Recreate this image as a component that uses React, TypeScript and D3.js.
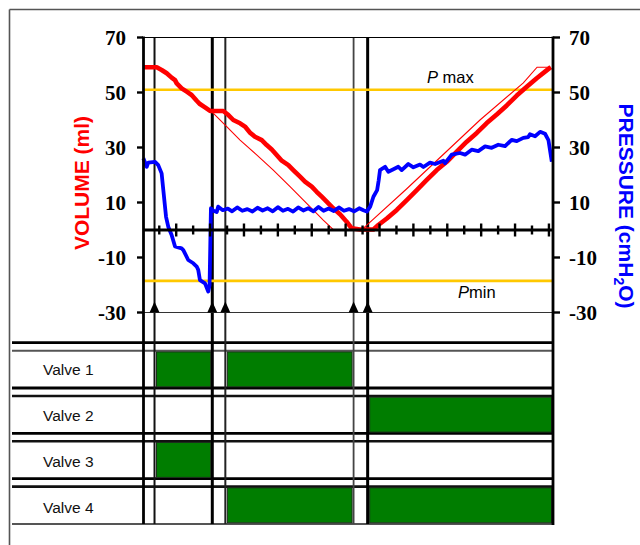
import React from 'react';
import * as d3 from 'd3';

// ---------- data ----------
const yTickValues = [70, 50, 30, 10, -10, -30];
const xTickValues = [0, 1, 2, 3, 4, 5, 6, 7, 8, 9, 10, 11, 12, 13, 14, 15, 16, 17, 18, 19, 20, 21, 22, 23];
const timeDomain = [-0.96, 23.24];
const valueDomain = [-30, 70];
const pMax = 51;
const pMin = -18.5;

// phase boundaries (time) : axis start, events 1..5, axis end
const phaseBounds = [-0.96, -0.28, 3.13, 3.9, 11.47, 12.3, 23.24];
const eventIndex = [1, 2, 3, 4, 5];
const valveNames = ['Valve 1', 'Valve 2', 'Valve 3', 'Valve 4'];
// 1 = open during phase i (between phaseBounds[i] and phaseBounds[i+1])
const valveOpen = [
  [0, 1, 0, 1, 0, 0],
  [0, 0, 0, 0, 0, 1],
  [0, 1, 0, 0, 0, 0],
  [0, 0, 0, 1, 0, 1],
];

// measured volume (ml)
const volumeMeasured: [number, number][] = [
  [-0.94, 59.2], [-0.15, 59.2], [0.14, 58.2], [0.44, 57.0], [0.73, 55.4], [0.93, 54.5], [1.03, 53.3],
  [1.32, 51.5], [1.62, 50.3], [1.91, 49.1], [2.21, 47.0], [2.4, 45.8], [2.7, 44.6], [3.0, 43.3],
  [3.78, 43.3], [4.08, 41.8], [4.37, 40.0], [4.77, 38.8], [5.06, 37.6], [5.36, 35.4], [5.65, 33.9],
  [6.05, 32.7], [6.34, 30.9], [6.64, 29.3], [6.93, 27.3], [7.23, 25.2], [7.62, 23.6], [7.91, 21.8],
  [8.31, 19.4], [8.6, 17.6], [9.0, 15.8], [9.29, 13.9], [9.59, 12.1], [9.88, 10.3], [10.27, 7.9],
  [10.67, 5.7], [11.06, 3.0], [11.36, 0.6], [11.85, 0.2], [12.64, 0.2], [12.93, 1.8], [13.43, 4.2],
  [14.02, 7.3], [14.61, 10.9], [15.2, 14.5], [15.79, 18.2], [16.38, 21.8], [16.97, 24.8], [17.56, 28.5],
  [18.15, 32.1], [18.74, 35.3], [19.33, 38.9], [19.92, 42.0], [20.51, 45.3], [21.1, 48.9], [21.69, 52.1],
  [22.28, 55.2], [22.77, 57.6], [23.11, 59.2],
];

// ideal volume (ml)
const volumeIdeal: [number, number][] = [
  [3.05, 43.3], [3.98, 37.6], [4.77, 32.7], [5.75, 27.3], [6.73, 21.8], [7.72, 15.8], [8.7, 9.7],
  [9.68, 3.6], [10.26, 0.2], [11.97, 0.2], [12.25, 1.8], [14.61, 15.0], [18.93, 40.0], [21.49, 53.5],
  [22.3, 59.2], [23.11, 59.2],
];

// pressure (cmH2O)
const pressure: [number, number][] = [
  [-0.94, 26.1], [-0.74, 23.0], [-0.65, 24.5], [-0.25, 24.8], [-0.06, 23.6], [0.14, 20.6], [0.24, 14.5],
  [0.4, 4.8], [0.53, 1.2], [0.73, -1.8], [0.93, -6.0], [1.32, -6.7], [1.42, -7.3], [1.71, -10.9],
  [2.01, -12.1], [2.21, -13.3], [2.3, -14.5], [2.4, -18.2], [2.7, -19.4], [2.89, -22.4], [2.97, -20.0],
  [3.05, 7.9], [3.2, 7.0], [3.39, 6.5], [3.48, 8.5], [3.75, 7.2], [4.05, 7.8], [4.3, 6.8], [4.6, 8.2],
  [4.9, 7.0], [5.2, 7.6], [5.5, 6.7], [5.8, 8.1], [6.1, 7.1], [6.4, 7.9], [6.7, 6.8], [7.0, 8.3],
  [7.3, 7.0], [7.6, 7.7], [7.9, 6.7], [8.2, 8.2], [8.5, 7.1], [8.8, 7.9], [9.1, 6.8], [9.4, 8.4],
  [9.7, 7.0], [10.0, 7.8], [10.3, 6.9], [10.6, 8.2], [10.9, 7.0], [11.2, 7.6], [11.5, 6.8], [11.8, 7.9],
  [12.05, 7.2], [12.25, 6.7], [12.45, 8.5], [12.64, 12.1], [12.86, 14.5], [12.95, 18.0], [13.03, 21.8],
  [13.33, 23.0], [13.52, 21.2], [13.82, 22.1], [14.11, 23.0], [14.31, 21.8], [14.7, 24.0], [15.0, 22.8],
  [15.39, 23.8], [15.59, 22.9], [15.98, 24.5], [16.28, 24.0], [16.77, 25.2], [16.87, 24.3], [17.26, 27.4],
  [17.75, 28.0], [18.05, 27.4], [18.44, 29.2], [18.83, 28.7], [19.23, 30.4], [19.62, 29.9], [20.01, 31.0],
  [20.41, 30.5], [20.8, 32.8], [21.1, 32.3], [21.49, 33.5], [21.78, 33.8], [21.88, 34.8], [22.18, 34.1],
  [22.48, 35.7], [22.77, 35.0], [22.97, 32.7], [23.17, 24.8],
];

// ---------- component ----------
const serif = "'Liberation Serif', 'Times New Roman', serif";
const sans = "'Liberation Sans', Arial, sans-serif";

export default function App() {
  const x = d3.scaleLinear().domain(timeDomain).range([143, 553]);
  const y = d3.scaleLinear().domain(valueDomain).range([312.5, 37.5]);
  const line = d3.line<[number, number]>().x((d) => x(d[0])).y((d) => y(d[1]));

  const xL = x(timeDomain[0]);
  const xR = x(timeDomain[1]);
  const yTop = y(valueDomain[1]);
  const yBot = y(valueDomain[0]);
  const y0 = y(0);

  const firstLine = 342.7;
  const pitch = 45.3;
  const pairGap = 8;
  const tableBottom = 524;
  const tableLeft = 12;

  const eventLineStyle = [
    { w: 2, c: '#111' },
    { w: 3, c: '#000' },
    { w: 2, c: '#222' },
    { w: 1.8, c: '#444' },
    { w: 3, c: '#000' },
  ];

  return (
    <svg width={640} height={545} style={{ position: 'absolute', left: 0, top: 0, background: '#fff' }}>
      <rect x={0} y={0} width={640} height={545} fill="#fff" />
      {/* outer frame */}
      <line x1={9.5} y1={9.5} x2={640} y2={9.5} stroke="#555" strokeWidth={1.6} />
      <line x1={9.5} y1={9.5} x2={9.5} y2={545} stroke="#555" strokeWidth={1.6} />

      {/* valve table horizontal lines */}
      {valveNames.map((_, i) => {
        const a = firstLine + i * pitch;
        return (
          <g key={'hl' + i}>
            <line x1={tableLeft} x2={xR} y1={a} y2={a} stroke="#000" strokeWidth={2.8} />
            <line x1={tableLeft} x2={xR} y1={a + pairGap} y2={a + pairGap}
              stroke={i === 0 ? '#555' : '#111'} strokeWidth={i === 0 ? 2 : 2.6} />
          </g>
        );
      })}
      <line x1={tableLeft} x2={xR} y1={tableBottom} y2={tableBottom} stroke="#555" strokeWidth={2} />

      {/* valve rectangles */}
      {valveOpen.map((states, i) => {
        const rowTop = firstLine + i * pitch + pairGap;
        const rowBot = i < valveOpen.length - 1 ? firstLine + (i + 1) * pitch : tableBottom;
        return states.map((s, p) =>
          s ? (
            <rect key={`v${i}-${p}`} x={x(phaseBounds[p]) + 2} width={x(phaseBounds[p + 1]) - x(phaseBounds[p]) - 3.5}
              y={rowTop + 1.2} height={rowBot - rowTop - 2.4} fill="#007d00" stroke="#1b2e1b" strokeWidth={1} />
          ) : null
        );
      })}

      {/* valve labels */}
      {valveNames.map((n, i) => {
        const rowTop = firstLine + i * pitch + pairGap;
        const rowBot = i < valveNames.length - 1 ? firstLine + (i + 1) * pitch : tableBottom;
        return (
          <text key={n} x={43} y={(rowTop + rowBot) / 2 + 0.5 + i * 0.6} dy="0.35em" fontFamily={sans} fontSize={15.5} fill="#111">
            {n}
          </text>
        );
      })}

      {/* event vertical lines */}
      {eventIndex.map((e, i) => (
        <line key={'ev' + i} x1={x(phaseBounds[e])} x2={x(phaseBounds[e])} y1={yTop} y2={tableBottom}
          stroke={eventLineStyle[i].c} strokeWidth={eventLineStyle[i].w} />
      ))}

      {/* threshold lines */}
      <line x1={xL} x2={xR} y1={y(pMax)} y2={y(pMax)} stroke="#ffc800" strokeWidth={2.6} />
      <line x1={xL} x2={xR} y1={y(pMin)} y2={y(pMin)} stroke="#ffc800" strokeWidth={2.6} />

      {/* plot borders */}
      <line x1={xL} x2={xR} y1={yTop} y2={yTop} stroke="#000" strokeWidth={1.2} />
      <line x1={xL} x2={xR} y1={yBot} y2={yBot} stroke="#333" strokeWidth={1.2} />

      {/* curves */}
      <path d={line(volumeIdeal) || ''} fill="none" stroke="#ff0000" strokeWidth={1.1} />
      <path d={line(volumeMeasured) || ''} fill="none" stroke="#ff0000" strokeWidth={4.6} strokeLinejoin="round" />
      <path d={line(pressure) || ''} fill="none" stroke="#0000ff" strokeWidth={3.8} strokeLinejoin="round" />

      {/* x axis */}
      <line x1={xL} x2={xR} y1={y0} y2={y0} stroke="#000" strokeWidth={3} />
      {xTickValues.map((t, i) => {
        const h = i % 2 === 1 ? 6.5 : 4.5;
        return <line key={'xt' + t} x1={x(t)} x2={x(t)} y1={y0 - h} y2={y0 + h} stroke="#000" strokeWidth={2.4} />;
      })}

      {/* y axes */}
      <line x1={xL + 0.5} x2={xL + 0.5} y1={yTop - 1} y2={tableBottom} stroke="#000" strokeWidth={2.8} />
      <line x1={xR} x2={xR} y1={yTop - 1} y2={tableBottom + 1} stroke="#000" strokeWidth={2.8} />
      {yTickValues.map((v) => (
        <g key={'yt' + v}>
          <line x1={xL - 6} x2={xL} y1={y(v)} y2={y(v)} stroke="#000" strokeWidth={2.4} />
          <line x1={xR} x2={xR + 7} y1={y(v)} y2={y(v)} stroke="#000" strokeWidth={2.4} />
          <text x={126} y={y(v)} dy="0.35em" textAnchor="end" fontFamily={serif} fontWeight="bold" fontSize={21} fill="#000">
            {v}
          </text>
          <text x={569} y={y(v)} dy="0.35em" textAnchor="start" fontFamily={serif} fontWeight="bold" fontSize={21} fill="#000">
            {v}
          </text>
        </g>
      ))}

      {/* event arrows */}
      {eventIndex.map((e, i) => {
        const ex = x(phaseBounds[e]);
        return <path key={'ar' + i} d={`M${ex - 5},${yBot} L${ex},${yBot - 11} L${ex + 5},${yBot} Z`} fill="#000" />;
      })}

      {/* threshold labels */}
      <text x={427} y={83} fontFamily={sans} fontSize={16.5} fill="#000">
        <tspan fontStyle="italic">P</tspan>
        <tspan> max</tspan>
      </text>
      <text x={458} y={298} fontFamily={sans} fontSize={16.5} fill="#000">
        <tspan fontStyle="italic">P</tspan>
        <tspan>min</tspan>
      </text>

      {/* axis titles */}
      <text transform="translate(82,183) rotate(-90)" dy="0.35em" textAnchor="middle" fontFamily={sans}
        fontWeight="bold" fontSize={21} fill="#ff0000">
        VOLUME (ml)
      </text>
      <text transform="translate(626,206) rotate(90)" dy="0.35em" textAnchor="middle" fontFamily={sans}
        fontWeight="bold" fontSize={21} fill="#0000ff">
        PRESSURE (cmH<tspan fontSize={14} dy="5">2</tspan><tspan dy="-5">O)</tspan>
      </text>
    </svg>
  );
}
